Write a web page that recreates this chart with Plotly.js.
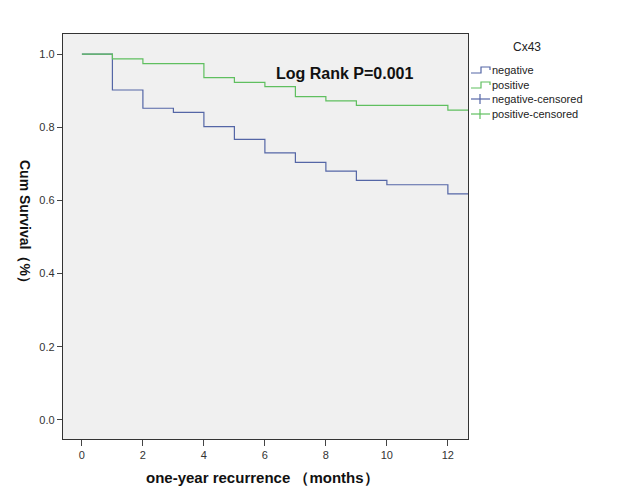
<!DOCTYPE html>
<html>
<head>
<meta charset="utf-8">
<script src="https://cdn.plot.ly/plotly-3.0.1.min.js"></script>
<style>html,body{margin:0;padding:0;background:#fff;}#chart{width:626px;height:501px;}</style>
</head>
<body>
<div id="chart"></div>
<script>
// Kaplan-Meier step data (months, cumulative survival)
const negativeTime = [0, 1, 2, 3, 4, 5, 6, 7, 8, 9, 10, 12, 12.7];
const negativeSurv = [1.0, 0.902, 0.852, 0.841, 0.802, 0.767, 0.730, 0.704, 0.680, 0.655, 0.643, 0.618, 0.618];
const positiveTime = [0, 1, 2, 4, 5, 6, 7, 8, 9, 12, 12.7];
const positiveSurv = [1.0, 0.987, 0.974, 0.936, 0.923, 0.911, 0.884, 0.872, 0.860, 0.847, 0.847];
const xTicks = [0, 2, 4, 6, 8, 10, 12];
const yTicks = [0.0, 0.2, 0.4, 0.6, 0.8, 1.0];
const yTickText = ['0.0', '0.2', '0.4', '0.6', '0.8', '1.0'];
const legendTitle = 'Cx43';
const legendLabels = ['negative', 'positive', 'negative-censored', 'positive-censored'];

const blue = '#5466a6';
const green = '#5fbf5f';
const colors = [blue, green, blue, green];
const FONT = 'Liberation Sans, Arial, sans-serif';

const traces = [
  {x: negativeTime, y: negativeSurv, type: 'scatter', mode: 'lines', line: {shape: 'hv', color: blue, width: 1.2}, name: legendLabels[0], showlegend: false, hoverinfo: 'skip'},
  {x: positiveTime, y: positiveSurv, type: 'scatter', mode: 'lines', line: {shape: 'hv', color: green, width: 1.2}, name: legendLabels[1], showlegend: false, hoverinfo: 'skip'}
];

// Manual legend (paper coordinates)
const W = 626, H = 501;
const ml = 63, mr = 158, mt = 34, mb = 62;
const pw = W - ml - mr, ph = H - mt - mb;
const px = v => (v - ml) / pw;
const py = v => (H - mb - v) / ph;

const annotations = [];
const shapes = [];
annotations.push({xref: 'paper', yref: 'paper', x: px(527), y: py(47), text: legendTitle, showarrow: false, xanchor: 'center', yanchor: 'middle', font: {family: FONT, size: 12, color: '#222'}});
const rowY = [70, 85, 99, 114];
legendLabels.forEach((lab, i) => {
  annotations.push({xref: 'paper', yref: 'paper', x: px(490), y: py(rowY[i]), text: lab, showarrow: false, xanchor: 'left', yanchor: 'middle', font: {family: FONT, size: 11, color: '#222'}});
  const y0 = rowY[i];
  if (i < 2) {
    const path = `M ${px(471)} ${py(y0 + 3)} L ${px(481)} ${py(y0 + 3)} L ${px(481)} ${py(y0 - 3)} L ${px(490)} ${py(y0 - 3)} L ${px(490)} ${py(y0)}`;
    shapes.push({type: 'path', xref: 'paper', yref: 'paper', path: path, line: {color: colors[i], width: 1.2}});
  } else {
    shapes.push({type: 'line', xref: 'paper', yref: 'paper', x0: px(471), x1: px(490), y0: py(y0), y1: py(y0), line: {color: colors[i], width: 1.2}});
    shapes.push({type: 'line', xref: 'paper', yref: 'paper', x0: px(480), x1: px(480), y0: py(y0 - 5), y1: py(y0 + 5), line: {color: colors[i], width: 1.2}});
  }
});

annotations.push({xref: 'paper', yref: 'paper', x: px(344), y: py(73), text: '<b>Log Rank P=0.001</b>', showarrow: false, xanchor: 'center', yanchor: 'middle', font: {family: FONT, size: 16, color: '#111'}});
annotations.push({xref: 'paper', yref: 'paper', x: px(262), y: py(477), text: '<b>one-year recurrence （months）</b>', showarrow: false, xanchor: 'center', yanchor: 'middle', font: {family: FONT, size: 15, color: '#111'}});
annotations.push({xref: 'paper', yref: 'paper', x: px(25), y: py(225), text: '<b>Cum Survival（%）</b>', showarrow: false, textangle: 90, xanchor: 'center', yanchor: 'middle', font: {family: FONT, size: 14, color: '#111'}});

const layout = {
  width: W, height: H,
  margin: {l: ml, r: mr, t: mt, b: mb, pad: 0},
  paper_bgcolor: '#ffffff',
  plot_bgcolor: '#f0f0f0',
  showlegend: false,
  xaxis: {
    range: [-0.62, 12.66], tickvals: xTicks, ticktext: xTicks.map(String),
    showgrid: false, zeroline: false, showline: true, mirror: true, linecolor: '#333', linewidth: 1.2,
    ticks: 'outside', ticklen: 6, tickcolor: '#444', tickfont: {family: FONT, size: 11, color: '#333'}
  },
  yaxis: {
    range: [-0.052, 1.055], tickvals: yTicks, ticktext: yTickText,
    showgrid: false, zeroline: false, showline: true, mirror: true, linecolor: '#333', linewidth: 1.2,
    ticks: 'outside', ticklen: 5, tickcolor: '#444', tickfont: {family: FONT, size: 11, color: '#333'}
  },
  annotations: annotations,
  shapes: shapes
};

Plotly.newPlot('chart', traces, layout, {displayModeBar: false, staticPlot: true});
</script>
</body>
</html>
